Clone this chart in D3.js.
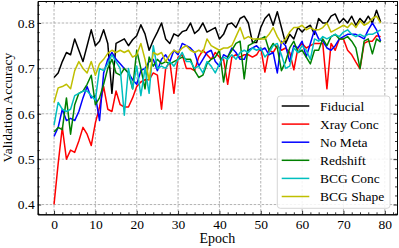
<!DOCTYPE html>
<html>
<head>
<meta charset="utf-8">
<script src="https://cdn.jsdelivr.net/npm/d3@7"></script>
<style>
  body { margin: 0; background: #fff; }
  svg text { font-family: "Liberation Serif", "Times New Roman", serif; fill: #000; }
</style>
</head>
<body>
<svg id="chart" width="399" height="248"></svg>
<script>
// validation accuracy per epoch
var epochs = d3.range(0, 80);

var fiducial = [
  0.680, 0.690, 0.715, 0.735, 0.730, 0.765, 0.740, 0.715, 0.750, 0.785,
  0.750, 0.760, 0.785, 0.755, 0.645, 0.755, 0.760, 0.765, 0.750, 0.763,
  0.772, 0.796, 0.776, 0.740, 0.762, 0.780, 0.800, 0.765, 0.755, 0.776,
  0.771, 0.781, 0.784, 0.800, 0.777, 0.785, 0.800, 0.780, 0.785, 0.790,
  0.765, 0.775, 0.797, 0.800, 0.790, 0.810, 0.815, 0.800, 0.757, 0.757,
  0.790, 0.810, 0.820, 0.795, 0.825, 0.790, 0.755, 0.775, 0.765, 0.790,
  0.780, 0.790, 0.795, 0.775, 0.810, 0.800, 0.800, 0.815, 0.820, 0.800,
  0.810, 0.800, 0.815, 0.795, 0.810, 0.800, 0.815, 0.800, 0.828, 0.802
];
var xrayConc = [
  0.400, 0.490, 0.570, 0.500, 0.520, 0.515, 0.540, 0.570, 0.555, 0.530,
  0.580, 0.615, 0.660, 0.610, 0.605, 0.650, 0.620, 0.615, 0.615, 0.635,
  0.660, 0.670, 0.675, 0.675, 0.690, 0.685, 0.610, 0.700, 0.715, 0.645,
  0.725, 0.730, 0.700, 0.700, 0.695, 0.725, 0.740, 0.730, 0.720, 0.735,
  0.725, 0.720, 0.665, 0.725, 0.730, 0.725, 0.730, 0.730, 0.725, 0.730,
  0.745, 0.692, 0.740, 0.735, 0.750, 0.740, 0.745, 0.735, 0.697, 0.745,
  0.755, 0.745, 0.750, 0.755, 0.755, 0.755, 0.655, 0.755, 0.740, 0.765,
  0.765, 0.740, 0.730, 0.714, 0.699, 0.755, 0.760, 0.760, 0.772, 0.770
];
var noMeta = [
  0.550, 0.570, 0.610, 0.585, 0.590, 0.585, 0.605, 0.635, 0.660, 0.635,
  0.640, 0.585, 0.690, 0.720, 0.735, 0.720, 0.710, 0.700, 0.690, 0.675,
  0.665, 0.695, 0.700, 0.715, 0.720, 0.695, 0.720, 0.730, 0.715, 0.740,
  0.730, 0.755, 0.750, 0.745, 0.735, 0.705, 0.720, 0.735, 0.740, 0.715,
  0.705, 0.730, 0.725, 0.745, 0.735, 0.720, 0.720, 0.740, 0.745, 0.750,
  0.740, 0.745, 0.730, 0.735, 0.690, 0.760, 0.750, 0.715, 0.750, 0.745,
  0.760, 0.725, 0.755, 0.785, 0.765, 0.760, 0.745, 0.740, 0.750, 0.765,
  0.770, 0.775, 0.775, 0.775, 0.770, 0.765, 0.785, 0.800, 0.785, 0.760
];
var redshift = [
  0.560, 0.570, 0.565, 0.635, 0.555, 0.620, 0.645, 0.650, 0.665, 0.685,
  0.620, 0.635, 0.665, 0.700, 0.720, 0.690, 0.685, 0.700, 0.690, 0.655,
  0.740, 0.700, 0.655, 0.725, 0.705, 0.720, 0.710, 0.715, 0.710, 0.715,
  0.720, 0.725, 0.720, 0.720, 0.695, 0.680, 0.685, 0.710, 0.720, 0.725,
  0.740, 0.670, 0.725, 0.740, 0.755, 0.760, 0.677, 0.750, 0.755, 0.765,
  0.765, 0.770, 0.740, 0.755, 0.745, 0.695, 0.715, 0.745, 0.760, 0.735,
  0.740, 0.725, 0.710, 0.740, 0.740, 0.765, 0.750, 0.770, 0.775, 0.765,
  0.765, 0.770, 0.760, 0.745, 0.700, 0.760, 0.765, 0.732, 0.765, 0.758
];
var bcgConc = [
  0.575, 0.625, 0.610, 0.605, 0.610, 0.640, 0.645, 0.650, 0.650, 0.640,
  0.630, 0.700, 0.695, 0.710, 0.730, 0.715, 0.700, 0.597, 0.700, 0.655,
  0.705, 0.640, 0.700, 0.645, 0.750, 0.700, 0.705, 0.700, 0.715, 0.705,
  0.720, 0.735, 0.715, 0.715, 0.700, 0.705, 0.690, 0.715, 0.705, 0.690,
  0.710, 0.725, 0.720, 0.730, 0.720, 0.735, 0.740, 0.735, 0.745, 0.740,
  0.745, 0.725, 0.735, 0.750, 0.755, 0.730, 0.700, 0.705, 0.745, 0.735,
  0.750, 0.740, 0.720, 0.765, 0.760, 0.770, 0.765, 0.770, 0.775, 0.770,
  0.780, 0.785, 0.775, 0.770, 0.775, 0.770, 0.775, 0.775, 0.780, 0.785
];
var bcgShape = [
  0.625, 0.657, 0.660, 0.665, 0.655, 0.695, 0.715, 0.700, 0.690, 0.715,
  0.685, 0.710, 0.720, 0.733, 0.740, 0.735, 0.740, 0.735, 0.740, 0.725,
  0.730, 0.755, 0.720, 0.675, 0.735, 0.730, 0.735, 0.715, 0.730, 0.740,
  0.735, 0.745, 0.750, 0.740, 0.735, 0.740, 0.735, 0.765, 0.750, 0.745,
  0.740, 0.745, 0.745, 0.750, 0.770, 0.790, 0.765, 0.770, 0.765, 0.765,
  0.765, 0.765, 0.775, 0.790, 0.770, 0.755, 0.765, 0.780, 0.790, 0.790,
  0.795, 0.785, 0.790, 0.785, 0.785, 0.790, 0.800, 0.780, 0.785, 0.790,
  0.795, 0.790, 0.800, 0.790, 0.805, 0.795, 0.800, 0.810, 0.815, 0.800
];

var seriesNames = ["Fiducial", "Xray Conc", "No Meta", "Redshift", "BCG Conc", "BCG Shape"];
var seriesColors = ["#000000", "#ff0000", "#0000ff", "#008000", "#00bfbf", "#bfbf00"];
var seriesValues = [fiducial, xrayConc, noMeta, redshift, bcgConc, bcgShape];

var xTicks = [0, 10, 20, 30, 40, 50, 60, 70, 80];
var yTicks = [0.4, 0.5, 0.6, 0.7, 0.8];
var xMinorTicks = d3.range(-2, 83, 2);
var yMinorTicks = d3.range(0.38, 0.85, 0.02);

var box = {left: 37.7, right: 397, top: 1, bottom: 214.3};

var svg = d3.select("#chart");

var x = d3.scaleLinear().domain([-3.95, 82.95]).range([box.left, box.right]);
var y = d3.scaleLinear().domain([0.3785, 0.8485]).range([box.bottom, box.top]);

// dashed grid at the major ticks
var grid = svg.append("g").attr("class", "grid");
grid.selectAll("line.gx").data(xTicks).enter().append("line")
    .attr("x1", function (d) { return x(d); })
    .attr("x2", function (d) { return x(d); })
    .attr("y1", box.top).attr("y2", box.bottom);
grid.selectAll("line.gy").data(yTicks).enter().append("line")
    .attr("y1", function (d) { return y(d); })
    .attr("y2", function (d) { return y(d); })
    .attr("x1", box.left).attr("x2", box.right);
grid.selectAll("line")
    .attr("stroke", "#a0a0a0")
    .attr("stroke-width", 0.8)
    .attr("stroke-dasharray", "2.5,1.5");

// the lines
svg.append("defs").append("clipPath").attr("id", "clip")
    .append("rect")
    .attr("x", box.left).attr("y", box.top)
    .attr("width", box.right - box.left).attr("height", box.bottom - box.top);

var line = d3.line()
    .x(function (d, i) { return x(epochs[i]); })
    .y(function (d) { return y(d); });

svg.append("g").attr("clip-path", "url(#clip)")
    .selectAll("path").data(seriesValues).enter().append("path")
    .attr("d", line)
    .attr("fill", "none")
    .attr("stroke", function (d, i) { return seriesColors[i]; })
    .attr("stroke-width", 1.5)
    .attr("stroke-linejoin", "round");

// axes, ticks pointing inward on all four sides
function addAxis(axis, tx, ty, ticks, size, labels) {
    var g = svg.append("g")
        .attr("transform", "translate(" + tx + "," + ty + ")")
        .call(axis.tickValues(ticks).tickSize(size).tickSizeOuter(0)
            .tickFormat(labels ? labels : ""));
    g.select(".domain").attr("stroke", "#000").attr("stroke-width", 1);
    g.selectAll(".tick line").attr("stroke", "#000").attr("stroke-width", 0.8);
    return g;
}

var xMinor = xMinorTicks.filter(function (d) { return xTicks.indexOf(d) < 0; });
var yMinor = yMinorTicks.filter(function (d) {
    return !yTicks.some(function (t) { return Math.abs(t - d) < 1e-6; });
});

var gx = addAxis(d3.axisBottom(x), 0, box.bottom, xTicks, -3.5, function (d) { return d; });
addAxis(d3.axisBottom(x), 0, box.bottom, xMinor, -2);
addAxis(d3.axisTop(x), 0, box.top, xTicks, -3.5);
addAxis(d3.axisTop(x), 0, box.top, xMinor, -2);
var gy = addAxis(d3.axisLeft(y), box.left, 0, yTicks, -3.5, d3.format(".1f"));
addAxis(d3.axisLeft(y), box.left, 0, yMinor, -2);
addAxis(d3.axisRight(y), box.right, 0, yTicks, -3.5);
addAxis(d3.axisRight(y), box.right, 0, yMinor, -2);

gx.selectAll(".tick text")
    .attr("y", 5).attr("dy", "0.71em")
    .style("font-size", "13.5px");
gy.selectAll(".tick text")
    .attr("x", -3).attr("dy", "0.32em")
    .style("font-size", "13.5px");

svg.append("text")
    .attr("x", (box.left + box.right) / 2)
    .attr("y", 243)
    .attr("text-anchor", "middle")
    .style("font-size", "14px")
    .text("Epoch");

svg.append("text")
    .attr("transform", "translate(11.5," + ((box.top + box.bottom) / 2) + ") rotate(-90)")
    .attr("text-anchor", "middle")
    .style("font-size", "13.5px")
    .text("Validation Accuracy");

// legend
var legend = svg.append("g");
legend.append("rect")
    .attr("x", 277.3).attr("y", 96)
    .attr("width", 112.7).attr("height", 112.3)
    .attr("rx", 3).attr("ry", 3)
    .attr("fill", "#fff").attr("fill-opacity", 0.85)
    .attr("stroke", "#cccccc").attr("stroke-width", 0.8);

var rows = legend.selectAll("g.row").data(seriesNames).enter().append("g")
    .attr("transform", function (d, i) { return "translate(0," + (106 + i * 18.1) + ")"; });
rows.append("line")
    .attr("x1", 281.7).attr("x2", 309.3)
    .attr("stroke", function (d, i) { return seriesColors[i]; })
    .attr("stroke-width", 1.5);
rows.append("text")
    .attr("x", 320).attr("dy", "0.35em")
    .style("font-size", "13.5px")
    .text(function (d) { return d; });
</script>
</body>
</html>
